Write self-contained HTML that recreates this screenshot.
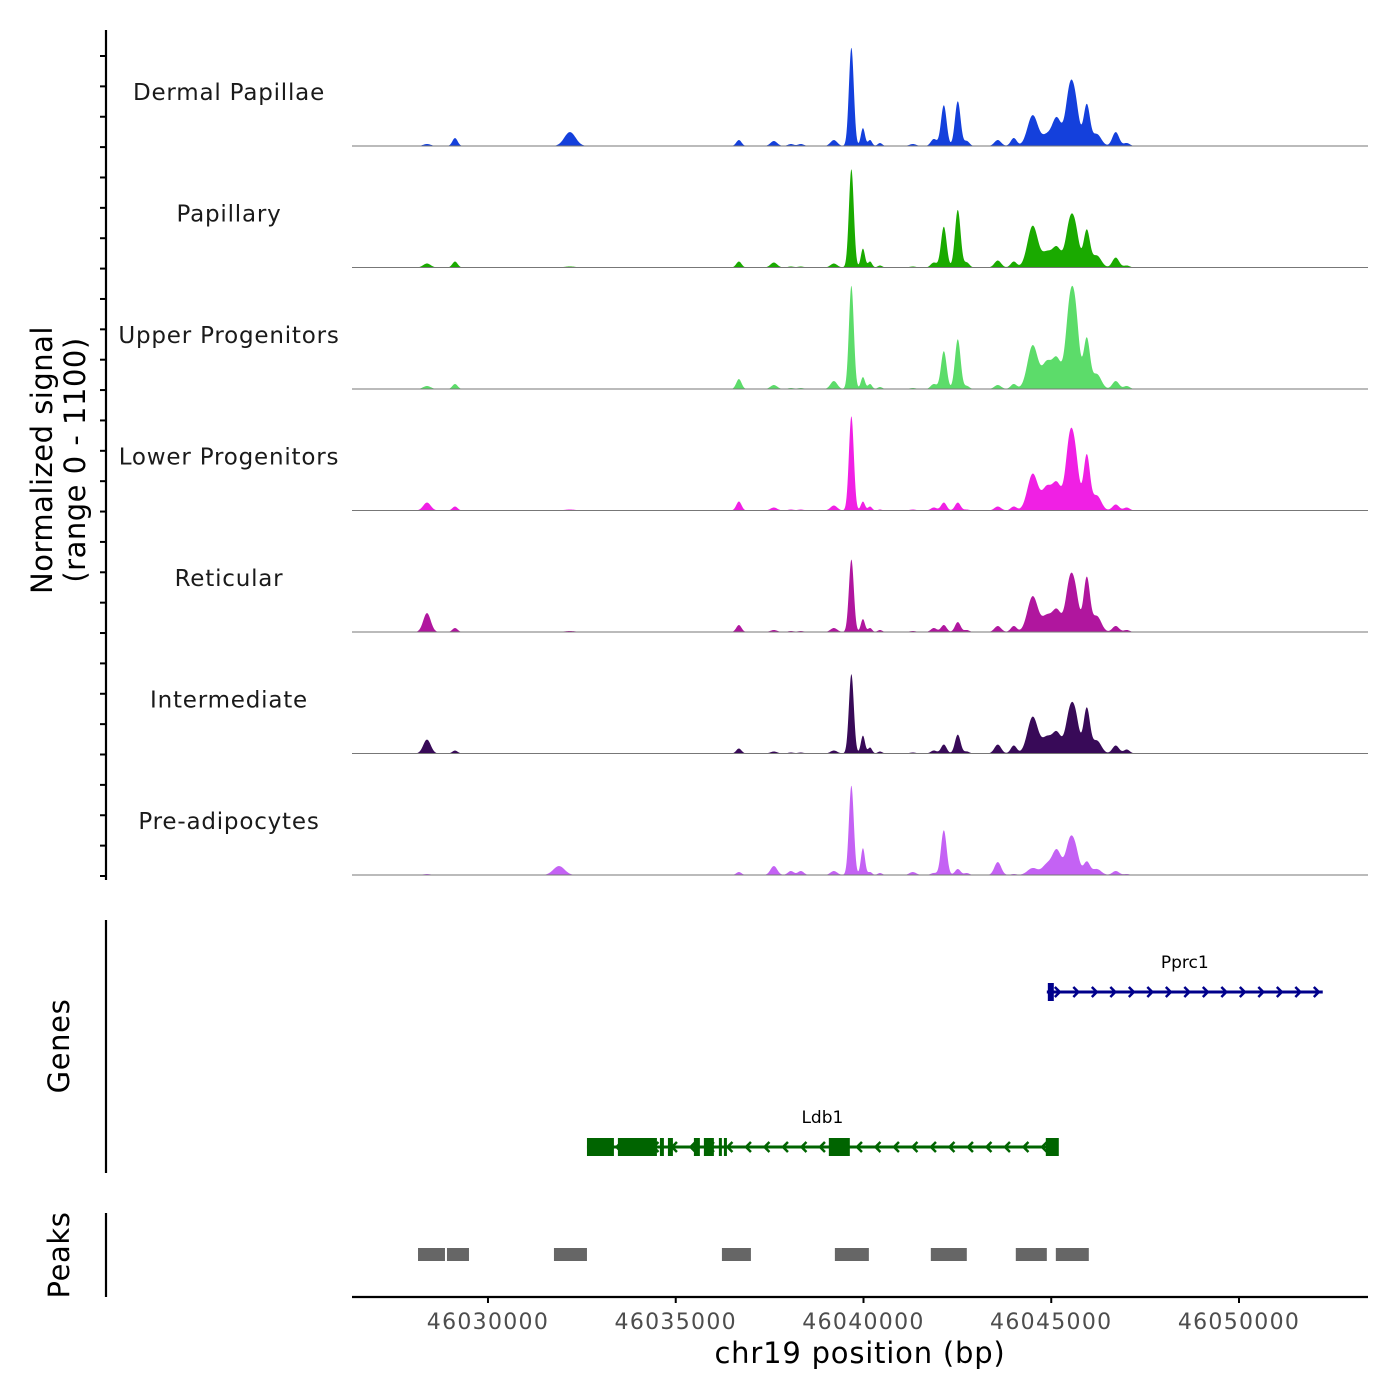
<!DOCTYPE html>
<html><head><meta charset="utf-8"><style>
html,body{margin:0;padding:0;background:#fff;}
svg{display:block;font-family:"DejaVu Sans","Liberation Sans",sans-serif;}
</style></head><body>
<svg id="chart" width="1400" height="1400" viewBox="0 0 1400 1400"></svg>
<script>
// ---- data ----
const peakPositions = [46028376,46029122,46031890,46032183,46036682,46037613,46038066,46038332,46039211,46039677,46039985,46040174,46040440,46041314,46041873,46042139,46042511,46042751,46043576,46044002,46044508,46044880,46045146,46045492,46045652,46045945,46046211,46046717,46047010];
const peakWidths = [100,70,150,150,70,90,80,80,90,65,55,55,60,90,80,75,75,70,90,80,140,120,120,110,100,85,120,90,80];
const trackNames = ["Dermal Papillae","Papillary","Upper Progenitors","Lower Progenitors","Reticular","Intermediate","Pre-adipocytes"];
const trackColors = ["#1440dc","#1aaa00","#5cdc6a","#f020e4","#b0169e","#380a58","#c462f4"];
const dermalValues = [18,72,0,126,54,45,18,18,54,891,162,54,27,18,63,369,405,45,54,72,279,90,252,486,297,369,108,126,27];
const papillaryValues = [36,54,0,9,54,45,9,9,36,891,171,54,18,9,45,369,522,45,63,54,378,126,180,378,270,333,108,90,18];
const upperValues = [27,45,0,0,90,36,9,9,72,936,108,45,18,9,45,342,450,27,36,45,396,225,270,702,540,450,135,72,27];
const lowerValues = [72,36,0,9,81,27,9,9,45,855,81,36,9,9,27,72,72,9,36,36,333,198,243,612,360,495,135,54,27];
const reticularValues = [171,36,0,9,63,18,9,9,36,657,117,36,18,9,36,63,90,18,54,54,324,135,198,432,270,486,144,54,18];
const intermediateValues = [126,27,0,0,45,18,9,9,27,720,162,54,18,9,27,81,171,18,81,72,333,135,189,351,270,405,117,72,36];
const preadipValues = [9,0,81,0,27,81,36,36,36,810,243,27,18,27,18,405,54,18,117,9,63,90,225,288,180,117,54,36,9];
const xTicks = [46030000,46035000,46040000,46045000,46050000];
const peakStarts = [46028137,46028908,46031757,46036230,46039238,46041793,46044056,46045122];
const peakEnds   = [46028855,46029494,46032636,46037002,46040143,46042751,46044882,46046000];
const ldb1Span = [46032636,46045175];
const ldb1ExonStarts = [46032636,46033460,46034579,46034792,46035484,46035750,46036149,46036283,46039077,46044855];
const ldb1ExonEnds   = [46033354,46034499,46034685,46034925,46035643,46036016,46036229,46036362,46039636,46045201];
const pprc1Span = [46044882,46052230];
const pprc1ExonStarts = [46044909];
const pprc1ExonEnds = [46045068];

const allValues = [dermalValues,papillaryValues,upperValues,lowerValues,reticularValues,intermediateValues,preadipValues];
// ---- scales ----
const X0=352, X1=1368, D0=46026379, D1=46053435;
function xs(bp){return X0+(bp-D0)/(D1-D0)*(X1-X0);}
const baselines=[146,267.5,389,510.5,632,753.5,875];
const trackH=121.5, yMax=1100;
function ys(t,v){return baselines[t]-v/yMax*trackH;}

const svg=document.getElementById('chart');
const NS="http://www.w3.org/2000/svg";
function mk(tag,attrs,parent){const e=document.createElementNS(NS,tag);for(const k in attrs)e.setAttribute(k,attrs[k]);(parent||svg).appendChild(e);return e;}

// tracks
for(let t=0;t<7;t++){
  const g=mk('g',{});
  
  
  const vals=allValues[t];
  let d='M'+X0+','+baselines[t];
  for(let px=X0;px<=X1;px+=0.5){
    const bp=D0+(px-X0)/(X1-X0)*(D1-D0);
    let v=0;
    for(let i=0;i<peakPositions.length;i++){const z=(bp-peakPositions[i])/peakWidths[i];if(Math.abs(z)<5)v+=vals[i]*Math.exp(-0.5*z*z);}
    d+=' L'+px+','+ys(t,v).toFixed(2);
  }
  d+=' L'+X1+','+baselines[t]+' Z';
  const p=mk('path',{d:d,fill:trackColors[t]},g);
  
  
  const bl=mk('line',{x1:X0,x2:X1,y1:baselines[t],y2:baselines[t],stroke:'#777','stroke-width':1},g);
  
  
  const lab=mk('text',{x:229,y:baselines[t]-46,'text-anchor':'middle','font-size':23,fill:'#1a1a1a','letter-spacing':'0.8'},g);
  lab.textContent=trackNames[t];
  
  
}
// left axis
const ax=mk('g',{});


mk('line',{x1:106,x2:106,y1:30,y2:880,stroke:'#000','stroke-width':2.2},ax);
for(let k=0;k<28;k++){const y=56+k*30.37;mk('line',{x1:100,x2:106,y1:y,y2:y,stroke:'#000','stroke-width':2},ax);}
const yt=mk('text',{transform:'translate(52,460) rotate(-90)','text-anchor':'middle','font-size':29,fill:'#000','letter-spacing':'0.5'});


yt.innerHTML='<tspan x="0" dy="0">Normalized signal</tspan><tspan x="0" dy="33">(range 0 - 1100)</tspan>';

// genes panel
const gp=mk('g',{});


mk('line',{x1:106,x2:106,y1:920,y2:1173,stroke:'#000','stroke-width':2.2},gp);
const gt=mk('text',{transform:'translate(69,1046) rotate(-90)','text-anchor':'middle','font-size':29,fill:'#000','letter-spacing':'0.6'},gp);
gt.textContent='Genes';


function drawGene(name,span,es,ee,y,color,dir){
  const g=mk('g',{},gp);
  
  
  const a=xs(span[0]),b=xs(span[1]);
  mk('line',{x1:a,x2:b,y1:y,y2:y,stroke:color,'stroke-width':3},g);
  for(let x=a+12;x<b-4;x+=18.5){
    const pts=dir>0?`${x-4},${y-5} ${x+1},${y} ${x-4},${y+5}`:`${x+4},${y-5} ${x-1},${y} ${x+4},${y+5}`;
    mk('polyline',{points:pts,fill:'none',stroke:color,'stroke-width':2.5},g);
  }
  for(let i=0;i<es.length;i++){
    const x0=xs(es[i]),x1=xs(ee[i]);
    const r=mk('rect',{x:x0,y:y-9,width:Math.max(x1-x0,3),height:18,fill:color},g);
    
    
  }
  const l=mk('text',{x:(a+b)/2,y:y-24,'text-anchor':'middle','font-size':17,fill:'#000'},g);
  l.textContent=name;
  
  
}
drawGene('Pprc1',pprc1Span,pprc1ExonStarts,pprc1ExonEnds,992,'#00008b',1);
drawGene('Ldb1',ldb1Span,ldb1ExonStarts,ldb1ExonEnds,1147,'#006400',-1);

// peaks panel
const pp=mk('g',{});


mk('line',{x1:106,x2:106,y1:1213,y2:1297,stroke:'#000','stroke-width':2.2},pp);
const pt=mk('text',{transform:'translate(69,1255) rotate(-90)','text-anchor':'middle','font-size':29,fill:'#000','letter-spacing':'0.6'},pp);
pt.textContent='Peaks';


for(let i=0;i<peakStarts.length;i++){
  const r=mk('rect',{x:xs(peakStarts[i]),y:1248,width:xs(peakEnds[i])-xs(peakStarts[i]),height:13,fill:'#666'},pp);
  
  
}

// x axis
const xa=mk('g',{});


mk('line',{x1:X0,x2:X1,y1:1297,y2:1297,stroke:'#000','stroke-width':2.2},xa);
for(const t of xTicks){
  const x=xs(t);
  mk('line',{x1:x,x2:x,y1:1297,y2:1303,stroke:'#000','stroke-width':2},xa);
  const l=mk('text',{x:x,y:1329,'text-anchor':'middle','font-size':22,fill:'#4d4d4d','letter-spacing':'1.3'},xa);
  l.textContent=t;
  
  
}
const xt=mk('text',{x:860,y:1363,'text-anchor':'middle','font-size':29,fill:'#000','letter-spacing':'0.8'},xa);
xt.textContent='chr19 position (bp)';


</script>
</body></html>
